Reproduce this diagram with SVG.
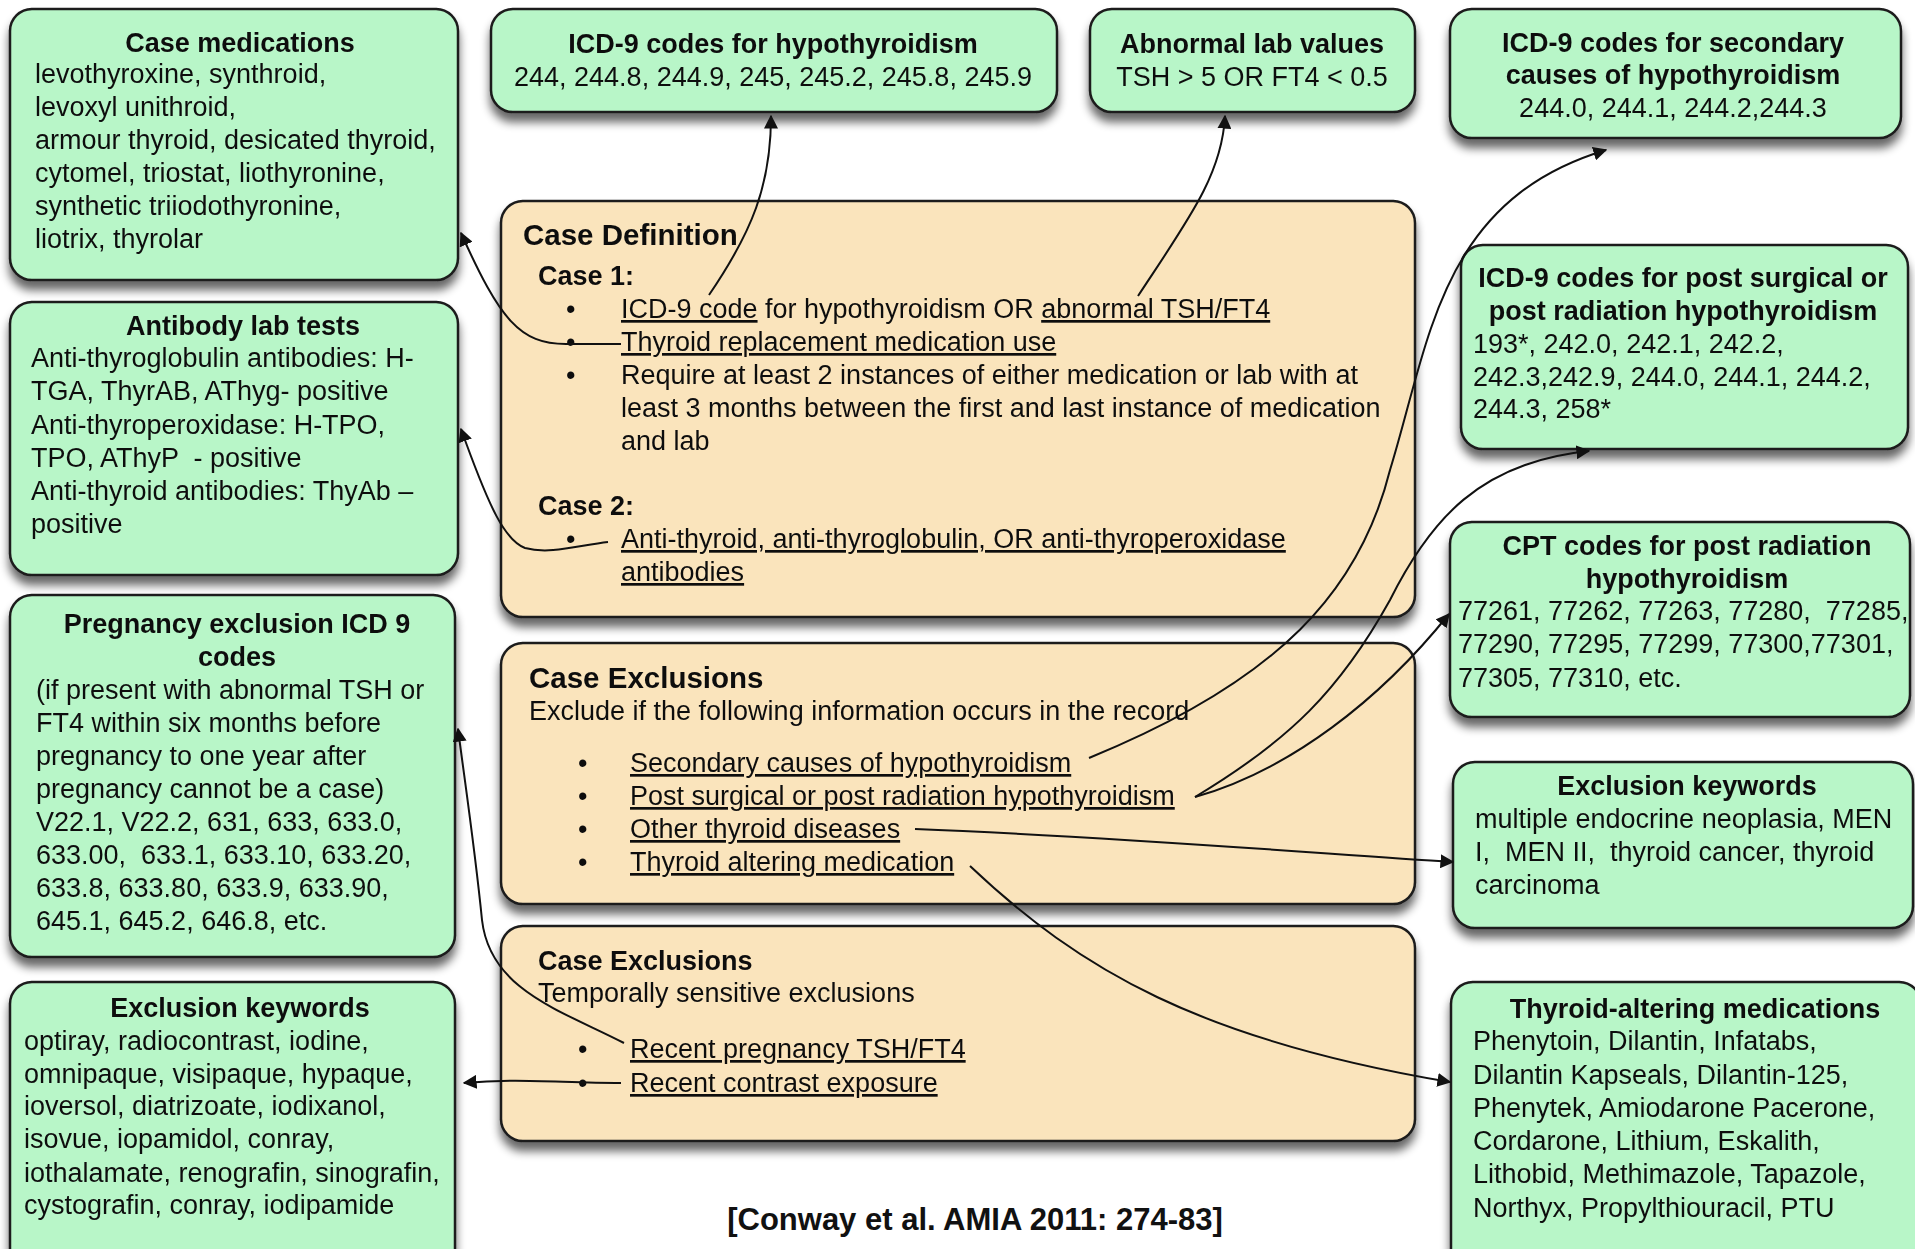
<svg xmlns="http://www.w3.org/2000/svg" width="1915" height="1249" viewBox="0 0 1915 1249">
  <defs>
    <filter id="shadow" x="-10%" y="-10%" width="120%" height="130%">
      <feGaussianBlur in="SourceAlpha" stdDeviation="5"/>
      <feOffset dx="0" dy="9" result="off"/>
      <feComponentTransfer><feFuncA type="linear" slope="0.6"/></feComponentTransfer>
      <feMerge><feMergeNode/><feMergeNode in="SourceGraphic"/></feMerge>
    </filter>
    <marker id="arrow" viewBox="0 0 10 10" refX="9" refY="5" markerWidth="14" markerHeight="14" markerUnits="userSpaceOnUse" orient="auto">
      <path d="M0,0 L10,5 L0,10 z" fill="#111"/>
    </marker>
    <style>
      .green { fill: #b8f6c8; stroke: #1c1c1c; stroke-width: 2.5; }
      .tan { fill: #fae4bc; stroke: #1c1c1c; stroke-width: 2.5; }
      text { font-family: "Liberation Sans", Arial, sans-serif; font-size: 27px; fill: #111; }
      .title { font-weight: bold; text-anchor: middle; }
      .mid { text-anchor: middle; }
      .head { font-weight: bold; font-size: 29.5px; }
      .sub { font-weight: bold; }
      .u { text-decoration: underline; }
      .pre { white-space: pre; }
      .link { fill: none; stroke: #111; stroke-width: 2; marker-end: url(#arrow); }
      .cite { font-weight: bold; font-size: 31px; text-anchor: middle; }
    </style>
  </defs>

  <rect width="1915" height="1249" fill="#ffffff"/>

  <!-- Source nodes -->
  <g id="case-medications" filter="url(#shadow)">
    <rect class="green" x="10" y="9" width="448" height="271" rx="22"/>
    <text class="title" x="240" y="52">Case medications</text>
    <text x="35" y="83">levothyroxine, synthroid,</text>
    <text x="35" y="116">levoxyl unithroid,</text>
    <text x="35" y="149">armour thyroid, desicated thyroid,</text>
    <text x="35" y="182">cytomel, triostat, liothyronine,</text>
    <text x="35" y="215">synthetic triiodothyronine,</text>
    <text x="35" y="248">liotrix, thyrolar</text>
  </g>

  <g id="icd9-hypothyroidism" filter="url(#shadow)">
    <rect class="green" x="491" y="9" width="566" height="103" rx="22"/>
    <text class="title" x="773" y="53">ICD-9 codes for hypothyroidism</text>
    <text class="mid" x="773" y="86">244, 244.8, 244.9, 245, 245.2, 245.8, 245.9</text>
  </g>

  <g id="abnormal-lab-values" filter="url(#shadow)">
    <rect class="green" x="1090" y="9" width="325" height="103" rx="22"/>
    <text class="title" x="1252" y="53">Abnormal lab values</text>
    <text class="mid" x="1252" y="86">TSH &gt; 5 OR FT4 &lt; 0.5</text>
  </g>

  <g id="icd9-secondary" filter="url(#shadow)">
    <rect class="green" x="1450" y="9" width="451" height="129" rx="22"/>
    <text class="title" x="1673" y="52">ICD-9 codes for secondary</text>
    <text class="title" x="1673" y="84">causes of hypothyroidism</text>
    <text class="mid" x="1673" y="117">244.0, 244.1, 244.2,244.3</text>
  </g>

  <g id="icd9-post-surgical" filter="url(#shadow)">
    <rect class="green" x="1461" y="245" width="447" height="204" rx="22"/>
    <text class="title" x="1683" y="287">ICD-9 codes for post surgical or</text>
    <text class="title" x="1683" y="320">post radiation hypothyroidism</text>
    <text x="1473" y="353">193*, 242.0, 242.1, 242.2,</text>
    <text x="1473" y="386">242.3,242.9, 244.0, 244.1, 244.2,</text>
    <text x="1473" y="418">244.3, 258*</text>
  </g>

  <g id="antibody-lab-tests" filter="url(#shadow)">
    <rect class="green" x="10" y="302" width="448" height="273" rx="22"/>
    <text class="title" x="243" y="335">Antibody lab tests</text>
    <text x="31" y="367">Anti-thyroglobulin antibodies: H-</text>
    <text x="31" y="400">TGA, ThyrAB, AThyg- positive</text>
    <text x="31" y="434">Anti-thyroperoxidase: H-TPO,</text>
    <text class="pre" x="31" y="467">TPO, AThyP  - positive</text>
    <text x="31" y="500">Anti-thyroid antibodies: ThyAb –</text>
    <text x="31" y="533">positive</text>
  </g>

  <g id="pregnancy-exclusion" filter="url(#shadow)">
    <rect class="green" x="10" y="595" width="445" height="362" rx="22"/>
    <text class="title" x="237" y="633">Pregnancy exclusion ICD 9</text>
    <text class="title" x="237" y="666">codes</text>
    <text x="36" y="699">(if present with abnormal TSH or</text>
    <text x="36" y="732">FT4 within six months before</text>
    <text x="36" y="765">pregnancy to one year after</text>
    <text x="36" y="798">pregnancy cannot be a case)</text>
    <text x="36" y="831">V22.1, V22.2, 631, 633, 633.0,</text>
    <text class="pre" x="36" y="864">633.00,  633.1, 633.10, 633.20,</text>
    <text x="36" y="897">633.8, 633.80, 633.9, 633.90,</text>
    <text x="36" y="930">645.1, 645.2, 646.8, etc.</text>
  </g>

  <g id="cpt-post-radiation" filter="url(#shadow)">
    <rect class="green" x="1450" y="522" width="460" height="195" rx="22"/>
    <text class="title" x="1687" y="555">CPT codes for post radiation</text>
    <text class="title" x="1687" y="588">hypothyroidism</text>
    <text class="pre" x="1458" y="620">77261, 77262, 77263, 77280,  77285,</text>
    <text x="1458" y="653">77290, 77295, 77299, 77300,77301,</text>
    <text x="1458" y="687">77305, 77310, etc.</text>
  </g>

  <g id="exclusion-keywords-thyroid" filter="url(#shadow)">
    <rect class="green" x="1453" y="762" width="460" height="166" rx="22"/>
    <text class="title" x="1687" y="795">Exclusion keywords</text>
    <text x="1475" y="828">multiple endocrine neoplasia, MEN</text>
    <text class="pre" x="1475" y="861">I,  MEN II,  thyroid cancer, thyroid</text>
    <text x="1475" y="894">carcinoma</text>
  </g>

  <g id="thyroid-altering-medications" filter="url(#shadow)">
    <rect class="green" x="1451" y="982" width="470" height="290" rx="22"/>
    <text class="title" x="1695" y="1018">Thyroid-altering medications</text>
    <text x="1473" y="1050">Phenytoin, Dilantin, Infatabs,</text>
    <text x="1473" y="1084">Dilantin Kapseals, Dilantin-125,</text>
    <text x="1473" y="1117">Phenytek, Amiodarone Pacerone,</text>
    <text x="1473" y="1150">Cordarone, Lithium, Eskalith,</text>
    <text x="1473" y="1183">Lithobid, Methimazole, Tapazole,</text>
    <text x="1473" y="1217">Northyx, Propylthiouracil, PTU</text>
  </g>

  <g id="exclusion-keywords-contrast" filter="url(#shadow)">
    <rect class="green" x="10" y="982" width="445" height="290" rx="22"/>
    <text class="title" x="240" y="1017">Exclusion keywords</text>
    <text x="24" y="1050">optiray, radiocontrast, iodine,</text>
    <text x="24" y="1083">omnipaque, visipaque, hypaque,</text>
    <text x="24" y="1115">ioversol, diatrizoate, iodixanol,</text>
    <text x="24" y="1148">isovue, iopamidol, conray,</text>
    <text x="24" y="1182">iothalamate, renografin, sinografin,</text>
    <text x="24" y="1214">cystografin, conray, iodipamide</text>
  </g>

  <!-- Central rule boxes -->
  <g id="case-definition" filter="url(#shadow)">
    <rect class="tan" x="501" y="201" width="914" height="416" rx="22"/>
    <text class="head" x="523" y="245">Case Definition</text>
    <text class="sub" x="538" y="285">Case 1:</text>
    <text x="566" y="318">•</text>
    <text x="621" y="318"><tspan class="u">ICD-9 code</tspan> for hypothyroidism OR <tspan class="u">abnormal TSH/FT4</tspan></text>
    <text x="566" y="351">•</text>
    <text class="u" x="621" y="351">Thyroid replacement medication use</text>
    <text x="566" y="384">•</text>
    <text x="621" y="384">Require at least 2 instances of either medication or lab with at</text>
    <text x="621" y="417">least 3 months between the first and last instance of medication</text>
    <text x="621" y="450">and lab</text>
    <text class="sub" x="538" y="515">Case 2:</text>
    <text x="566" y="548">•</text>
    <text class="u" x="621" y="548">Anti-thyroid, anti-thyroglobulin, OR anti-thyroperoxidase</text>
    <text class="u" x="621" y="581">antibodies</text>
  </g>

  <g id="case-exclusions" filter="url(#shadow)">
    <rect class="tan" x="501" y="643" width="914" height="261" rx="22"/>
    <text class="head" x="529" y="688">Case Exclusions</text>
    <text x="529" y="720">Exclude if the following information occurs in the record</text>
    <text x="578" y="772">•</text>
    <text class="u" x="630" y="772">Secondary causes of hypothyroidism</text>
    <text x="578" y="805">•</text>
    <text class="u" x="630" y="805">Post surgical or post radiation hypothyroidism</text>
    <text x="578" y="838">•</text>
    <text class="u" x="630" y="838">Other thyroid diseases</text>
    <text x="578" y="871">•</text>
    <text class="u" x="630" y="871">Thyroid altering medication</text>
  </g>

  <g id="temporal-exclusions" filter="url(#shadow)">
    <rect class="tan" x="501" y="926" width="914" height="215" rx="22"/>
    <text class="sub" x="538" y="970">Case Exclusions</text>
    <text x="538" y="1002">Temporally sensitive exclusions</text>
    <text x="578" y="1058">•</text>
    <text class="u" x="630" y="1058">Recent pregnancy TSH/FT4</text>
    <text x="578" y="1092">•</text>
    <text class="u" x="630" y="1092">Recent contrast exposure</text>
  </g>

  <text id="citation" class="cite" x="975" y="1230">[Conway et al. AMIA 2011: 274-83]</text>

  <!-- Connectors: each criterion points at the code/keyword list that defines it -->
  <g id="connectors">
    <path class="link" d="M709 295 C752 232 771 185 771 116"/>
    <path class="link" d="M1138 296 C1188 220 1222 175 1225 116"/>
    <path class="link" d="M621 344 L566 344 C520 344 500 320 461 233"/>
    <path class="link" d="M608 542 C580 545 550 555 525 548 C505 540 490 510 461 429"/>
    <path class="link" d="M1089 758 C1280 680 1360 590 1390 470 C1430 340 1440 200 1606 150"/>
    <path class="link" d="M1195 797 C1290 740 1340 690 1390 600 C1430 520 1480 462 1589 451"/>
    <path class="link" d="M1195 797 C1290 770 1380 700 1449 614"/>
    <path class="link" d="M915 829 C1100 836 1300 852 1453 862"/>
    <path class="link" d="M970 866 C1080 970 1200 1040 1450 1082"/>
    <path class="link" d="M624 1043 C560 1010 490 990 482 920 C475 850 466 790 458 729"/>
    <path class="link" d="M621 1083 C560 1083 520 1078 464 1083"/>
  </g>
</svg>
